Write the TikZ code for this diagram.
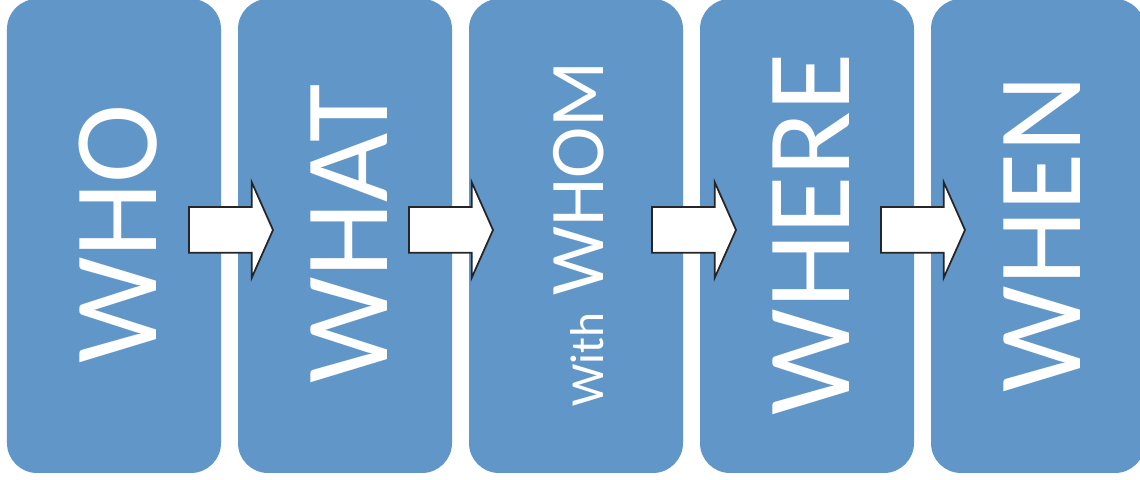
\documentclass[tikz,border=0pt]{standalone}
\usepackage{fontspec}
\setmainfont{Carlito}
\usetikzlibrary{shapes.arrows}

\begin{document}
\begin{tikzpicture}[
    stage/.style={fill=stageblue, rounded corners=0.3cm, minimum width=2.14cm, minimum height=4.74cm, inner sep=0pt},
    word/.style={text=white, rotate=90, inner sep=0pt, font=\fontsize{34pt}{34pt}\selectfont},
    blockarrow/.style={shape=single arrow, draw=black!85, line width=0.5pt, fill=white,
      minimum height=0.84cm, inner xsep=0pt, inner ysep=0.22cm, single arrow head extend=0.25cm,
      single arrow tip angle=132, outer sep=0pt, anchor=tail}
  ]
  \definecolor{stageblue}{RGB}{97,150,200}
  \fill[white] (0,0) rectangle (11.4,4.8);
  \path[use as bounding box, clip] (0,0) rectangle (11.4,4.8);

  % the five stages
  \node[stage] (who)   at (1.14,2.44) {};
  \node[stage] (what)  at (3.45,2.44) {};
  \node[stage] (whom)  at (5.76,2.44) {};
  \node[stage] (where) at (8.07,2.44) {};
  \node[stage] (when)  at (10.38,2.44) {};

  \node[word] (whoL)   at ([xshift=0.04cm,yshift=0.02cm]who.center)   {WHO};
  \node[word] (whatL)  at ([xshift=0.04cm,yshift=0.02cm]what.center)  {WHAT};
  \node[word] (whomL)  at ([xshift=0.03cm,yshift=0.02cm]whom.center)
    {\fontsize{13.5pt}{14pt}\selectfont With\fontsize{22pt}{22pt}\selectfont{} WHOM};
  \node[word] (whereL) at ([xshift=0.04cm,yshift=0.02cm]where.center) {WHERE};
  \node[word] (whenL)  at ([xshift=0.04cm,yshift=0.02cm]when.center)  {WHEN};

  % arrows between stages
  \node[blockarrow] (a1) at (1.89,2.50) {};
  \node[blockarrow] (a2) at (4.09,2.50) {};
  \node[blockarrow] (a3) at (6.52,2.50) {};
  \node[blockarrow] (a4) at (8.81,2.50) {};
\end{tikzpicture}
\end{document}
